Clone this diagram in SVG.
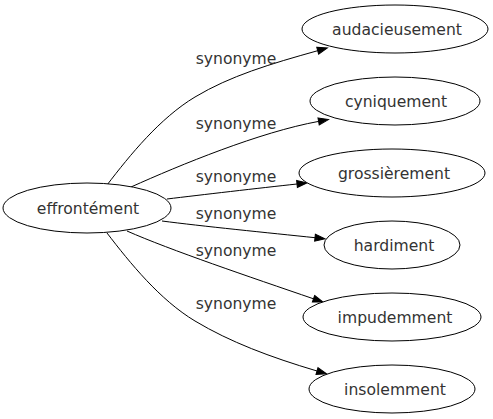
<svg xmlns="http://www.w3.org/2000/svg" width="493" height="419" viewBox="0 0 493 419">
<defs>
<style>
.n ellipse{fill:#fff;stroke:#000;stroke-width:1}
text{font-family:"DejaVu Sans",sans-serif;font-size:15.6px;fill:#333;text-anchor:middle}
.e path{fill:none;stroke:#000;stroke-width:1;marker-end:url(#ah)}
</style>
<marker id="ah" markerUnits="userSpaceOnUse" markerWidth="12" markerHeight="10" refX="0" refY="4" orient="auto" overflow="visible">
<polygon points="0,0.5 10,4 0,7.5" fill="#000" stroke="#000" stroke-width="1"/>
</marker>
</defs>
<rect width="493" height="419" fill="#fff"/>
<g class="e" id="edges">
<path d="M107,185 C130,155 160,118 195,97 S270,64 317.7,50.7"/>
<path d="M131,187 C180,165 260,132 318.6,121.4"/>
<path d="M167,199 C200,195 260,188 297,184"/>
<path d="M162,221 C200,226 270,233 315,237.7"/>
<path d="M127,231 C170,250 250,277 313.5,298.8"/>
<path d="M107,233 C130,263 160,300 195,321 S270,357 317,371"/>
<text x="236" y="64">synonyme</text>
<text x="236" y="129">synonyme</text>
<text x="236" y="182">synonyme</text>
<text x="236" y="219">synonyme</text>
<text x="236" y="255.5">synonyme</text>
<text x="236" y="309">synonyme</text>
</g>
<g class="n" id="effrontement"><ellipse cx="87" cy="208" rx="84" ry="25"/><text x="88" y="214">effrontément</text></g>
<g class="n" id="audacieusement"><ellipse cx="395" cy="29" rx="93" ry="24"/><text x="397" y="35">audacieusement</text></g>
<g class="n" id="cyniquement"><ellipse cx="395" cy="101" rx="85" ry="24"/><text x="396" y="107">cyniquement</text></g>
<g class="n" id="grossierement"><ellipse cx="392" cy="173" rx="93" ry="24"/><text x="394" y="179">grossièrement</text></g>
<g class="n" id="hardiment"><ellipse cx="392" cy="245" rx="68" ry="24"/><text x="394" y="251">hardiment</text></g>
<g class="n" id="impudemment"><ellipse cx="392" cy="317" rx="89" ry="24"/><text x="395" y="323">impudemment</text></g>
<g class="n" id="insolemment"><ellipse cx="392" cy="389" rx="83" ry="24"/><text x="395" y="395">insolemment</text></g>
</svg>
